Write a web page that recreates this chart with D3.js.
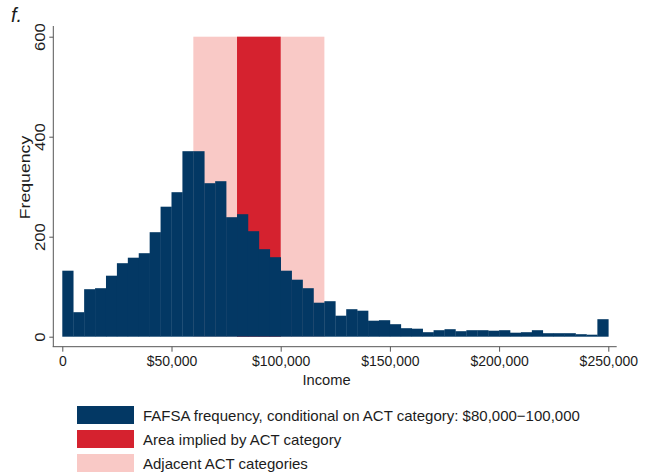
<!DOCTYPE html>
<html>
<head>
<meta charset="utf-8">
<script src="https://cdn.jsdelivr.net/npm/d3@7"></script>
<style>
  html, body { margin: 0; padding: 0; background: #fff; }
  svg { display: block; font-family: "Liberation Sans", Arial, Helvetica, sans-serif; }
</style>
</head>
<body>
<svg id="chart" width="655" height="474"></svg>
<script>
// Histogram of FAFSA incomes in $5,000 bins (0 to 250,000)
const binWidth = 5000;
const frequencies = [132, 49, 95, 97, 122, 147, 158, 167, 209, 260,
                     289, 371, 371, 307, 311, 239, 245, 211, 175, 159,
                     132, 114, 97, 68, 71, 42, 55, 52, 32, 33,
                     25, 17, 16, 9, 13, 15, 11, 13, 13, 12,
                     13, 8, 9, 13, 7, 7, 7, 5, 4, 35];

// Shaded income ranges behind the histogram
const adjacentRange = [60000, 120000];
const impliedRange = [80000, 100000];

const xTicks = [0, 50000, 100000, 150000, 200000, 250000];
const xTickLabels = ["0", "$50,000", "$100,000", "$150,000", "$200,000", "$250,000"];
const yTicks = [0, 200, 400, 600];

const legendLabels = [
  "FAFSA frequency, conditional on ACT category: $80,000\u2212100,000",
  "Area implied by ACT category",
  "Adjacent ACT categories"
];

const NAVY = "#033864";
const RED = "#d5222f";
const PINK = "#f9c9c6";
const INK = "#1c1c1c";
const AXIS = "#555";

const svg = d3.select("#chart");

const x = d3.scaleLinear().domain([0, 250000]).range([62.3, 608.3]);
const y = d3.scaleLinear().domain([0, 600]).range([336.7, 36.7]);

// Bands: adjacent categories, then the implied category on top
svg.append("rect")
  .attr("x", x(adjacentRange[0])).attr("y", y(600))
  .attr("width", x(adjacentRange[1]) - x(adjacentRange[0]))
  .attr("height", y(0) - y(600))
  .attr("fill", PINK);
svg.append("rect")
  .attr("x", x(impliedRange[0])).attr("y", y(600))
  .attr("width", x(impliedRange[1]) - x(impliedRange[0]))
  .attr("height", y(0) - y(600))
  .attr("fill", RED);

// Histogram bars
svg.append("g").selectAll("rect")
  .data(frequencies)
  .join("rect")
  .attr("x", (d, i) => x(i * binWidth))
  .attr("width", (d, i) => x((i + 1) * binWidth) - x(i * binWidth) + 0.3)
  .attr("y", d => y(d))
  .attr("height", d => y(0) - y(d))
  .attr("fill", NAVY);

// Axes
const axisY = 346.7, axisX = 53.3;

const gx = svg.append("g").attr("transform", `translate(0,${axisY})`)
  .call(d3.axisBottom(x).tickValues(xTicks).tickSize(5)
    .tickFormat((d, i) => xTickLabels[i]));
gx.select(".domain").remove();
gx.selectAll(".tick line").attr("stroke", AXIS);
gx.selectAll(".tick text")
  .attr("y", 19.3).attr("dy", 0)
  .attr("fill", INK).style("font-size", "14px")
  .style("font-family", "'Liberation Sans', Arial, sans-serif");
gx.append("line")
  .attr("x1", axisX - 0.6).attr("x2", 616.7)
  .attr("y1", 0).attr("y2", 0)
  .attr("stroke", AXIS).attr("stroke-width", 1);

const gy = svg.append("g").attr("transform", `translate(${axisX},0)`)
  .call(d3.axisLeft(y).tickValues(yTicks).tickSize(4));
gy.select(".domain").remove();
gy.selectAll(".tick line").attr("stroke", AXIS);
gy.selectAll(".tick text")
  .attr("x", null).attr("dy", 0)
  .attr("text-anchor", "middle")
  .attr("transform", "translate(-8.3,0) rotate(-90) scale(1.15,1)")
  .attr("fill", INK).style("font-size", "14.5px")
  .style("font-family", "'Liberation Sans', Arial, sans-serif");
gy.append("line")
  .attr("x1", 0).attr("x2", 0)
  .attr("y1", 26).attr("y2", axisY)
  .attr("stroke", AXIS).attr("stroke-width", 1);

// Axis titles
svg.append("text")
  .attr("transform", "translate(30,177.5) rotate(-90) scale(1.22,1)")
  .attr("text-anchor", "middle")
  .attr("fill", INK).style("font-size", "14.5px")
  .text("Frequency");

svg.append("text")
  .attr("x", 326.5).attr("y", 385)
  .attr("text-anchor", "middle")
  .attr("fill", INK).style("font-size", "14.7px")
  .text("Income");

// Panel letter
svg.append("text")
  .attr("x", 11).attr("y", 21.5)
  .attr("fill", INK).style("font-size", "20px").style("font-style", "italic")
  .text("f.");

// Legend
const legendColors = [NAVY, RED, PINK];
const lg = svg.append("g");
legendLabels.forEach((label, i) => {
  const top = 406 + i * 24;
  lg.append("rect")
    .attr("x", 77).attr("y", top)
    .attr("width", 57).attr("height", 18)
    .attr("fill", legendColors[i]);
  lg.append("text")
    .attr("x", 143).attr("y", top + 14.5)
    .attr("fill", INK).style("font-size", "15px")
    .text(label);
});
</script>
</body>
</html>
